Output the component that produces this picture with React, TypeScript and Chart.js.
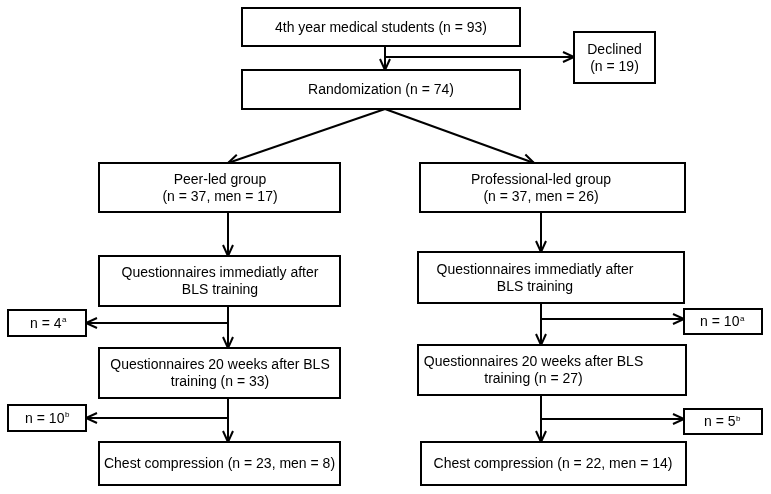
import React, { useEffect, useRef } from "react";
import { Chart, registerables } from "chart.js";
Chart.register(...registerables);

// ---- data (counts) ----
const ENROLLED = [93];
const DECLINED = [19];
const RANDOMIZED = [74];
const GROUPS = ["Peer-led group", "Professional-led group"];
const GROUP_N = [37, 37];
const GROUP_MEN = [17, 26];
const LOST_AFTER_TRAINING = [4, 10];
const Q20_N = [33, 27];
const LOST_BEFORE_CHEST = [10, 5];
const CHEST_N = [23, 22];
const CHEST_MEN = [8, 14];

type Node = { box: number[]; tx: number; lines: string[]; sup?: string };

function buildNodes(): Node[] {
  return [
    { box: [242, 8, 520, 46], tx: 381, lines: [`4th year medical students (n = ${ENROLLED[0]})`] },
    { box: [574, 32, 655, 83], tx: 614.5, lines: ["Declined", `(n = ${DECLINED[0]})`] },
    { box: [242, 70, 520, 109], tx: 381, lines: [`Randomization (n = ${RANDOMIZED[0]})`] },
    { box: [99, 163, 340, 212], tx: 220, lines: [GROUPS[0], `(n = ${GROUP_N[0]}, men = ${GROUP_MEN[0]})`] },
    { box: [420, 163, 685, 212], tx: 541, lines: [GROUPS[1], `(n = ${GROUP_N[1]}, men = ${GROUP_MEN[1]})`] },
    { box: [99, 256, 340, 306], tx: 220, lines: ["Questionnaires immediatly after", "BLS training"] },
    { box: [418, 252, 684, 303], tx: 535, lines: ["Questionnaires immediatly after", "BLS training"] },
    { box: [8, 310, 86, 336], tx: 48, lines: [`n = ${LOST_AFTER_TRAINING[0]}`], sup: "a" },
    { box: [684, 309, 762, 334], tx: 722, lines: [`n = ${LOST_AFTER_TRAINING[1]}`], sup: "a" },
    { box: [99, 348, 340, 398], tx: 220, lines: ["Questionnaires 20 weeks after BLS", `training (n = ${Q20_N[0]})`] },
    { box: [418, 345, 686, 395], tx: 533.5, lines: ["Questionnaires 20 weeks after BLS", `training (n = ${Q20_N[1]})`] },
    { box: [8, 405, 86, 431], tx: 47, lines: [`n = ${LOST_BEFORE_CHEST[0]}`], sup: "b" },
    { box: [684, 409, 762, 434], tx: 722, lines: [`n = ${LOST_BEFORE_CHEST[1]}`], sup: "b" },
    { box: [99, 442, 340, 485], tx: 219.5, lines: [`Chest compression (n = ${CHEST_N[0]}, men = ${CHEST_MEN[0]})`] },
    { box: [421, 442, 686, 485], tx: 553, lines: [`Chest compression (n = ${CHEST_N[1]}, men = ${CHEST_MEN[1]})`] },
  ];
}

// connectors: [x0, y0, x1, y1, arrowAtEnd]
const EDGES: number[][] = [
  [385, 46, 385, 70, 1],
  [385, 57, 574, 57, 1],
  [385, 109, 228, 163, 1],
  [385, 109, 534, 163, 1],
  [228, 212, 228, 256, 1],
  [541, 212, 541, 252, 1],
  [228, 306, 228, 348, 1],
  [228, 323, 86, 323, 1],
  [541, 303, 541, 345, 1],
  [541, 319, 684, 319, 1],
  [228, 398, 228, 442, 1],
  [228, 418, 86, 418, 1],
  [541, 395, 541, 442, 1],
  [541, 419, 684, 419, 1],
];

const FONT = "14px 'Liberation Sans', Arial, sans-serif";
const SUP_FONT = "8px 'Liberation Sans', Arial, sans-serif";

const flowPlugin = {
  id: "flow",
  afterDraw(chart: any) {
    const ctx = chart.ctx as CanvasRenderingContext2D;
    const xs = chart.scales.x;
    const ys = chart.scales.y;
    const px = (v: number) => xs.getPixelForValue(v);
    const py = (v: number) => ys.getPixelForValue(v);
    ctx.save();
    ctx.strokeStyle = "#000";
    ctx.fillStyle = "#000";
    ctx.lineWidth = 2;
    ctx.lineCap = "butt";
    ctx.lineJoin = "miter";

    for (const e of EDGES) {
      const x0 = px(e[0]), y0 = py(e[1]), x1 = px(e[2]), y1 = py(e[3]);
      ctx.beginPath();
      ctx.moveTo(x0, y0);
      ctx.lineTo(x1, y1);
      ctx.stroke();
      if (e[4]) {
        const ang = Math.atan2(y1 - y0, x1 - x0);
        const L = 11, W = 5;
        const bx = x1 - L * Math.cos(ang), by = y1 - L * Math.sin(ang);
        const nx = -Math.sin(ang), ny = Math.cos(ang);
        ctx.beginPath();
        ctx.moveTo(bx + nx * W, by + ny * W);
        ctx.lineTo(x1, y1);
        ctx.lineTo(bx - nx * W, by - ny * W);
        ctx.stroke();
      }
    }

    const nodes = buildNodes();
    for (const n of nodes) {
      const [a, b, c, d] = n.box;
      const x0 = px(a), y0 = py(b), x1 = px(c), y1 = py(d);
      ctx.fillStyle = "#fff";
      ctx.fillRect(x0, y0, x1 - x0, y1 - y0);
      ctx.strokeRect(x0, y0, x1 - x0, y1 - y0);
      ctx.fillStyle = "#000";
      ctx.textBaseline = "middle";
      const lh = 17;
      const cy = (y0 + y1) / 2;
      const cx = px(n.tx);
      const startY = cy - ((n.lines.length - 1) * lh) / 2;
      n.lines.forEach((line, i) => {
        ctx.font = FONT;
        const w = ctx.measureText(line).width;
        let sw = 0;
        if (n.sup && i === n.lines.length - 1) {
          ctx.font = SUP_FONT;
          sw = ctx.measureText(n.sup).width;
        }
        const left = cx - (w + sw) / 2;
        ctx.font = FONT;
        ctx.textAlign = "left";
        ctx.fillText(line, left, startY + i * lh + 1);
        if (sw) {
          ctx.font = SUP_FONT;
          ctx.fillText(n.sup as string, left + w + 0.5, startY + i * lh - 3);
        }
      });
    }
    ctx.restore();
  },
};

export default function App() {
  const ref = useRef<HTMLCanvasElement | null>(null);
  useEffect(() => {
    if (!ref.current) return;
    const chart = new Chart(ref.current, {
      type: "scatter",
      data: { datasets: [{ data: [], pointRadius: 0 }] },
      options: {
        animation: false,
        responsive: false,
        maintainAspectRatio: false,
        layout: { padding: 0 },
        events: [],
        plugins: { legend: { display: false }, tooltip: { enabled: false } },
        scales: {
          x: { type: "linear", min: 0, max: 771, display: false },
          y: { type: "linear", min: 0, max: 494, reverse: true, display: false },
        },
      },
      plugins: [flowPlugin],
    });
    return () => chart.destroy();
  }, []);
  return (
    <div style={{ position: "fixed", left: 0, top: 0, width: 771, height: 494, background: "#fff" }}>
      <canvas ref={ref} width={771} height={494} style={{ display: "block" }} />
    </div>
  );
}
